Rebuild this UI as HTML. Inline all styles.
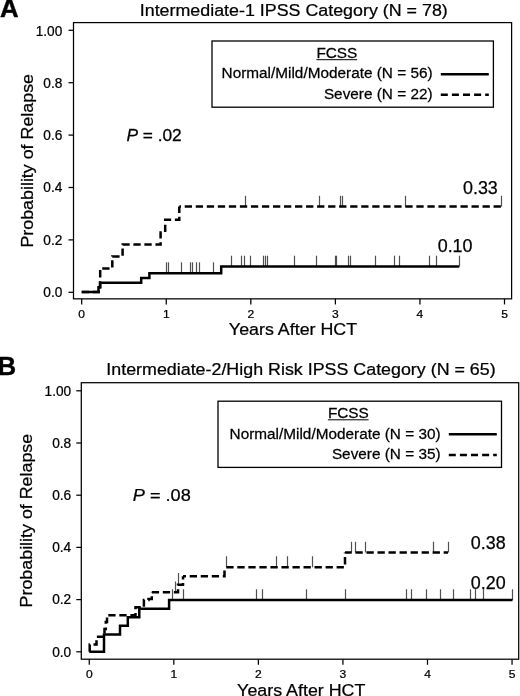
<!DOCTYPE html>
<html><head><meta charset="utf-8"><title>Probability of Relapse</title>
<style>html,body{margin:0;padding:0;background:#fff}svg{display:block}text{font-family:"Liberation Sans",sans-serif;fill:#000;stroke:#000;stroke-width:0.25px}</style></head>
<body>
<svg width="520" height="696" viewBox="0 0 520 696">
<rect width="520" height="696" fill="#fff"/>
<g>
<text transform="translate(-0.1,17.4) scale(1.03,1)" font-size="25.049" text-anchor="start" font-weight="bold" style="stroke-width:0.4px">A</text>
<text transform="translate(293.75,15.9) scale(1.035,1)" font-size="17.246" text-anchor="middle">Intermediate-1 IPSS Category (N = 78)</text>
<rect x="73.5" y="22.6" width="438.1" height="276.25" fill="none" stroke="#000" stroke-width="1.25"/>
<line x1="68.5" y1="292.30" x2="73.5" y2="292.30" stroke="#000" stroke-width="1.25"/><text transform="translate(62.3,297.1) scale(0.99,1)" font-size="13.838" text-anchor="end">0.0</text>
<line x1="68.5" y1="239.90" x2="73.5" y2="239.90" stroke="#000" stroke-width="1.25"/><text transform="translate(62.3,244.7) scale(0.99,1)" font-size="13.838" text-anchor="end">0.2</text>
<line x1="68.5" y1="187.50" x2="73.5" y2="187.50" stroke="#000" stroke-width="1.25"/><text transform="translate(62.3,192.3) scale(0.99,1)" font-size="13.838" text-anchor="end">0.4</text>
<line x1="68.5" y1="135.10" x2="73.5" y2="135.10" stroke="#000" stroke-width="1.25"/><text transform="translate(62.3,139.9) scale(0.99,1)" font-size="13.838" text-anchor="end">0.6</text>
<line x1="68.5" y1="82.70" x2="73.5" y2="82.70" stroke="#000" stroke-width="1.25"/><text transform="translate(62.3,88.1) scale(0.99,1)" font-size="13.838" text-anchor="end">0.8</text>
<line x1="68.5" y1="30.30" x2="73.5" y2="30.30" stroke="#000" stroke-width="1.25"/><text transform="translate(62.3,35.7) scale(0.99,1)" font-size="13.838" text-anchor="end">1.00</text>
<line x1="81.70" y1="298.85" x2="81.70" y2="304.45000000000005" stroke="#000" stroke-width="1.25"/><text transform="translate(81.7,318.0) scale(1.025,1)" font-size="11.766" text-anchor="middle">0</text>
<line x1="166.26" y1="298.85" x2="166.26" y2="304.45000000000005" stroke="#000" stroke-width="1.25"/><text transform="translate(166.26,318.0) scale(1.025,1)" font-size="11.766" text-anchor="middle">1</text>
<line x1="250.82" y1="298.85" x2="250.82" y2="304.45000000000005" stroke="#000" stroke-width="1.25"/><text transform="translate(250.82,318.0) scale(1.025,1)" font-size="11.766" text-anchor="middle">2</text>
<line x1="335.38" y1="298.85" x2="335.38" y2="304.45000000000005" stroke="#000" stroke-width="1.25"/><text transform="translate(335.38,318.0) scale(1.025,1)" font-size="11.766" text-anchor="middle">3</text>
<line x1="419.94" y1="298.85" x2="419.94" y2="304.45000000000005" stroke="#000" stroke-width="1.25"/><text transform="translate(419.94,318.0) scale(1.025,1)" font-size="11.766" text-anchor="middle">4</text>
<line x1="504.50" y1="298.85" x2="504.50" y2="304.45000000000005" stroke="#000" stroke-width="1.25"/><text transform="translate(504.5,318.0) scale(1.025,1)" font-size="11.766" text-anchor="middle">5</text>
<text transform="translate(32.9,160.8) rotate(-90) scale(1.035,1)" font-size="17.246" text-anchor="middle">Probability of Relapse</text>
<text transform="translate(293,335.3) scale(1.035,1)" font-size="17.246" text-anchor="middle">Years After HCT</text>
<text transform="translate(126.4,140.9) scale(1.05,1)" font-size="16.5" text-anchor="start"><tspan font-style="italic">P</tspan> = .02</text>
<rect x="212" y="41" width="281.4" height="66.2" fill="#fff" stroke="#000" stroke-width="1.3"/>
<text transform="translate(316.4,58.1) scale(1.01,1)" font-size="15.198" text-anchor="start">FCSS</text>
<line x1="316.4" y1="59.7" x2="357.09999999999997" y2="59.7" stroke="#000" stroke-width="1"/>
<text transform="translate(432.6,78.3) scale(1.01,1)" font-size="15.198" text-anchor="end">Normal/Mild/Moderate (N = 56)</text>
<text transform="translate(432.6,98.9) scale(1.01,1)" font-size="15.198" text-anchor="end">Severe (N = 22)</text>
<line x1="440.8" y1="74.2" x2="488.8" y2="74.2" stroke="#000" stroke-width="2.4"/>
<line x1="440.8" y1="94.7" x2="488.8" y2="94.7" stroke="#000" stroke-width="2.4" stroke-dasharray="7 4.1"/>
<line x1="166.5" y1="262.3" x2="166.5" y2="273.2" stroke="#505050" stroke-width="1.2"/><line x1="168.5" y1="262.3" x2="168.5" y2="273.2" stroke="#505050" stroke-width="1.2"/><line x1="181.5" y1="262.3" x2="181.5" y2="273.2" stroke="#505050" stroke-width="1.2"/><line x1="190.5" y1="262.3" x2="190.5" y2="273.2" stroke="#505050" stroke-width="1.2"/><line x1="192.5" y1="262.3" x2="192.5" y2="273.2" stroke="#505050" stroke-width="1.2"/><line x1="196.5" y1="262.3" x2="196.5" y2="273.2" stroke="#505050" stroke-width="1.2"/><line x1="199.5" y1="262.3" x2="199.5" y2="273.2" stroke="#505050" stroke-width="1.2"/><line x1="213.5" y1="262.3" x2="213.5" y2="273.2" stroke="#505050" stroke-width="1.2"/>
<line x1="231.5" y1="255.7" x2="231.5" y2="266.6" stroke="#505050" stroke-width="1.2"/><line x1="241.5" y1="255.7" x2="241.5" y2="266.6" stroke="#505050" stroke-width="1.2"/><line x1="244.5" y1="255.7" x2="244.5" y2="266.6" stroke="#505050" stroke-width="1.2"/><line x1="250.5" y1="255.7" x2="250.5" y2="266.6" stroke="#505050" stroke-width="1.2"/><line x1="263.5" y1="255.7" x2="263.5" y2="266.6" stroke="#505050" stroke-width="1.2"/><line x1="265.5" y1="255.7" x2="265.5" y2="266.6" stroke="#505050" stroke-width="1.2"/><line x1="267.5" y1="255.7" x2="267.5" y2="266.6" stroke="#505050" stroke-width="1.2"/><line x1="294.5" y1="255.7" x2="294.5" y2="266.6" stroke="#505050" stroke-width="1.2"/><line x1="316.5" y1="255.7" x2="316.5" y2="266.6" stroke="#505050" stroke-width="1.2"/><line x1="335.5" y1="255.7" x2="335.5" y2="266.6" stroke="#505050" stroke-width="1.2"/><line x1="336.5" y1="255.7" x2="336.5" y2="266.6" stroke="#505050" stroke-width="1.2"/><line x1="348.5" y1="255.7" x2="348.5" y2="266.6" stroke="#505050" stroke-width="1.2"/><line x1="350.5" y1="255.7" x2="350.5" y2="266.6" stroke="#505050" stroke-width="1.2"/><line x1="375.5" y1="255.7" x2="375.5" y2="266.6" stroke="#505050" stroke-width="1.2"/><line x1="394.5" y1="255.7" x2="394.5" y2="266.6" stroke="#505050" stroke-width="1.2"/><line x1="399.5" y1="255.7" x2="399.5" y2="266.6" stroke="#505050" stroke-width="1.2"/><line x1="429.5" y1="255.7" x2="429.5" y2="266.6" stroke="#505050" stroke-width="1.2"/><line x1="436.5" y1="255.7" x2="436.5" y2="266.6" stroke="#505050" stroke-width="1.2"/><line x1="459.5" y1="255.7" x2="459.5" y2="266.6" stroke="#505050" stroke-width="1.2"/>
<line x1="245.5" y1="195.8" x2="245.5" y2="206.6" stroke="#505050" stroke-width="1.2"/><line x1="319.5" y1="195.8" x2="319.5" y2="206.6" stroke="#505050" stroke-width="1.2"/><line x1="340.5" y1="195.8" x2="340.5" y2="206.6" stroke="#505050" stroke-width="1.2"/><line x1="342.5" y1="195.8" x2="342.5" y2="206.6" stroke="#505050" stroke-width="1.2"/><line x1="405.5" y1="195.8" x2="405.5" y2="206.6" stroke="#505050" stroke-width="1.2"/><line x1="501.5" y1="195.8" x2="501.5" y2="206.6" stroke="#505050" stroke-width="1.2"/>
<path d="M81.7,292 H100.2 V268.4 H112.3 V256.4 H122.6 V244.4 H160.6 V232.4 H165.2 V219.7 H179.3 V206.6" fill="none" stroke="#000" stroke-width="2.5" stroke-dasharray="7.3 3.73" stroke-dashoffset="0" stroke-linejoin="miter"/>
<path d="M179.3,206.6 H501.25" fill="none" stroke="#000" stroke-width="2.5" stroke-dasharray="7.3 3.73" stroke-dashoffset="5.6" stroke-linejoin="miter"/>
<path d="M81.7,292 H98.5 V287.3 H100 V282.7 H141.2 V278 H149.4 V273.2 H221.2 V266.6 H459.25" fill="none" stroke="#000" stroke-width="2.5" stroke-linejoin="miter"/>
<text transform="translate(463,194.0) scale(1.0,1)" font-size="17.9" text-anchor="start">0.33</text>
<text transform="translate(437.7,251.5) scale(1.0,1)" font-size="17.9" text-anchor="start">0.10</text>
</g>
<g>
<text transform="translate(-2.6,375) scale(1.03,1)" font-size="25.049" text-anchor="start" font-weight="bold" style="stroke-width:0.4px">B</text>
<text transform="translate(301,375.0) scale(1.035,1)" font-size="17.246" text-anchor="middle">Intermediate-2/High Risk IPSS Category (N = 65)</text>
<rect x="81.3" y="382.7" width="437.40000000000003" height="276.50000000000006" fill="none" stroke="#000" stroke-width="1.25"/>
<line x1="76.3" y1="651.80" x2="81.3" y2="651.80" stroke="#000" stroke-width="1.25"/><text transform="translate(71.2,656.6) scale(0.99,1)" font-size="13.838" text-anchor="end">0.0</text>
<line x1="76.3" y1="599.60" x2="81.3" y2="599.60" stroke="#000" stroke-width="1.25"/><text transform="translate(71.2,604.4) scale(0.99,1)" font-size="13.838" text-anchor="end">0.2</text>
<line x1="76.3" y1="547.40" x2="81.3" y2="547.40" stroke="#000" stroke-width="1.25"/><text transform="translate(71.2,552.2) scale(0.99,1)" font-size="13.838" text-anchor="end">0.4</text>
<line x1="76.3" y1="495.20" x2="81.3" y2="495.20" stroke="#000" stroke-width="1.25"/><text transform="translate(71.2,500.0) scale(0.99,1)" font-size="13.838" text-anchor="end">0.6</text>
<line x1="76.3" y1="443.00" x2="81.3" y2="443.00" stroke="#000" stroke-width="1.25"/><text transform="translate(71.2,448.4) scale(0.99,1)" font-size="13.838" text-anchor="end">0.8</text>
<line x1="76.3" y1="390.80" x2="81.3" y2="390.80" stroke="#000" stroke-width="1.25"/><text transform="translate(71.2,396.2) scale(0.99,1)" font-size="13.838" text-anchor="end">1.00</text>
<line x1="89.25" y1="659.2" x2="89.25" y2="664.8000000000001" stroke="#000" stroke-width="1.25"/><text transform="translate(89.25,678.3) scale(1.025,1)" font-size="11.766" text-anchor="middle">0</text>
<line x1="173.81" y1="659.2" x2="173.81" y2="664.8000000000001" stroke="#000" stroke-width="1.25"/><text transform="translate(173.81,678.3) scale(1.025,1)" font-size="11.766" text-anchor="middle">1</text>
<line x1="258.37" y1="659.2" x2="258.37" y2="664.8000000000001" stroke="#000" stroke-width="1.25"/><text transform="translate(258.37,678.3) scale(1.025,1)" font-size="11.766" text-anchor="middle">2</text>
<line x1="342.93" y1="659.2" x2="342.93" y2="664.8000000000001" stroke="#000" stroke-width="1.25"/><text transform="translate(342.93,678.3) scale(1.025,1)" font-size="11.766" text-anchor="middle">3</text>
<line x1="427.49" y1="659.2" x2="427.49" y2="664.8000000000001" stroke="#000" stroke-width="1.25"/><text transform="translate(427.49,678.3) scale(1.025,1)" font-size="11.766" text-anchor="middle">4</text>
<line x1="512.05" y1="659.2" x2="512.05" y2="664.8000000000001" stroke="#000" stroke-width="1.25"/><text transform="translate(512.05,678.3) scale(1.025,1)" font-size="11.766" text-anchor="middle">5</text>
<text transform="translate(32.3,520.6) rotate(-90) scale(1.035,1)" font-size="17.246" text-anchor="middle">Probability of Relapse</text>
<text transform="translate(301.25,695.6) scale(1.035,1)" font-size="17.246" text-anchor="middle">Years After HCT</text>
<text transform="translate(132.8,501.1) scale(1.1,1)" font-size="16.5" text-anchor="start"><tspan font-style="italic">P</tspan> = .08</text>
<rect x="218" y="401.2" width="283.5" height="66.19999999999999" fill="#fff" stroke="#000" stroke-width="1.3"/>
<text transform="translate(327.9,418.2) scale(1.01,1)" font-size="15.198" text-anchor="start">FCSS</text>
<line x1="327.9" y1="419.8" x2="368.59999999999997" y2="419.8" stroke="#000" stroke-width="1"/>
<text transform="translate(440.6,438.5) scale(1.01,1)" font-size="15.198" text-anchor="end">Normal/Mild/Moderate (N = 30)</text>
<text transform="translate(440.6,459.2) scale(1.01,1)" font-size="15.198" text-anchor="end">Severe (N = 35)</text>
<line x1="448.8" y1="434.2" x2="496.8" y2="434.2" stroke="#000" stroke-width="2.4"/>
<line x1="448.8" y1="455" x2="496.8" y2="455" stroke="#000" stroke-width="2.4" stroke-dasharray="7 4.1"/>
<line x1="172.5" y1="589.25" x2="172.5" y2="600" stroke="#505050" stroke-width="1.2"/><line x1="183.5" y1="589.25" x2="183.5" y2="600" stroke="#505050" stroke-width="1.2"/><line x1="256.5" y1="589.25" x2="256.5" y2="600" stroke="#505050" stroke-width="1.2"/><line x1="262.5" y1="589.25" x2="262.5" y2="600" stroke="#505050" stroke-width="1.2"/><line x1="306.5" y1="589.25" x2="306.5" y2="600" stroke="#505050" stroke-width="1.2"/><line x1="345.5" y1="589.25" x2="345.5" y2="600" stroke="#505050" stroke-width="1.2"/><line x1="406.5" y1="589.25" x2="406.5" y2="600" stroke="#505050" stroke-width="1.2"/><line x1="411.5" y1="589.25" x2="411.5" y2="600" stroke="#505050" stroke-width="1.2"/><line x1="426.5" y1="589.25" x2="426.5" y2="600" stroke="#505050" stroke-width="1.2"/><line x1="440.5" y1="589.25" x2="440.5" y2="600" stroke="#505050" stroke-width="1.2"/><line x1="453.5" y1="589.25" x2="453.5" y2="600" stroke="#505050" stroke-width="1.2"/><line x1="470.5" y1="589.25" x2="470.5" y2="600" stroke="#505050" stroke-width="1.2"/><line x1="475.5" y1="589.25" x2="475.5" y2="600" stroke="#505050" stroke-width="1.2"/><line x1="483.5" y1="589.25" x2="483.5" y2="600" stroke="#505050" stroke-width="1.2"/><line x1="512.5" y1="589.25" x2="512.5" y2="600" stroke="#505050" stroke-width="1.2"/>
<line x1="175.5" y1="581.5" x2="175.5" y2="592.3" stroke="#505050" stroke-width="1.2"/>
<line x1="178.5" y1="573" x2="178.5" y2="584.7" stroke="#505050" stroke-width="1.2"/>
<line x1="226.5" y1="556.25" x2="226.5" y2="567.3" stroke="#505050" stroke-width="1.2"/><line x1="276.5" y1="556.25" x2="276.5" y2="567.3" stroke="#505050" stroke-width="1.2"/><line x1="287.5" y1="556.25" x2="287.5" y2="567.3" stroke="#505050" stroke-width="1.2"/><line x1="312.5" y1="556.25" x2="312.5" y2="567.3" stroke="#505050" stroke-width="1.2"/>
<line x1="351.5" y1="541.75" x2="351.5" y2="552.5" stroke="#505050" stroke-width="1.2"/><line x1="355.5" y1="541.75" x2="355.5" y2="552.5" stroke="#505050" stroke-width="1.2"/><line x1="365.5" y1="541.75" x2="365.5" y2="552.5" stroke="#505050" stroke-width="1.2"/><line x1="433.5" y1="541.75" x2="433.5" y2="552.5" stroke="#505050" stroke-width="1.2"/><line x1="448.5" y1="541.75" x2="448.5" y2="552.5" stroke="#505050" stroke-width="1.2"/>
<path d="M89.7,651.7 V644.5 H96.5 V636.8 H104.5 V629 H105.8 V622 H107 V615.2" fill="none" stroke="#000" stroke-width="2.5" stroke-dasharray="7.3 3.73" stroke-dashoffset="0" stroke-linejoin="miter"/>
<path d="M107,615.2 H135.5 V607.3 H143.9 V600 H148.5 V599 H151.8 V592.3" fill="none" stroke="#000" stroke-width="2.5" stroke-dasharray="7.3 3.73" stroke-dashoffset="9.73" stroke-linejoin="miter"/>
<path d="M151.8,592.3 H178 V584.7 H183 V576.2" fill="none" stroke="#000" stroke-width="2.5" stroke-dasharray="7.3 3.73" stroke-dashoffset="0" stroke-linejoin="miter"/>
<path d="M183,576.2 H224.5 V567.3" fill="none" stroke="#000" stroke-width="2.5" stroke-dasharray="7.3 3.73" stroke-dashoffset="4.33" stroke-linejoin="miter"/>
<path d="M224.5,567.3 H345" fill="none" stroke="#000" stroke-width="2.5" stroke-dasharray="7.3 3.73" stroke-dashoffset="9.23" stroke-linejoin="miter"/>
<path d="M345,567.3 V552.4" fill="none" stroke="#000" stroke-width="2.5" stroke-dasharray="7.3 3.73" stroke-dashoffset="8.13" stroke-linejoin="miter"/>
<path d="M345,552.4 H448" fill="none" stroke="#000" stroke-width="2.5" stroke-dasharray="7.3 3.73" stroke-dashoffset="0.6" stroke-linejoin="miter"/>
<path d="M89.25,651.7 H104 V634.5 H120 V625.8 H127.8 V617.3 H139.3 V608.7 H169.1 V600.1 H512.5" fill="none" stroke="#000" stroke-width="2.5" stroke-linejoin="miter"/>
<text transform="translate(470.8,549.3) scale(1.0,1)" font-size="17.9" text-anchor="start">0.38</text>
<text transform="translate(470.8,588.5) scale(1.0,1)" font-size="17.9" text-anchor="start">0.20</text>
</g>
</svg>
</body></html>
